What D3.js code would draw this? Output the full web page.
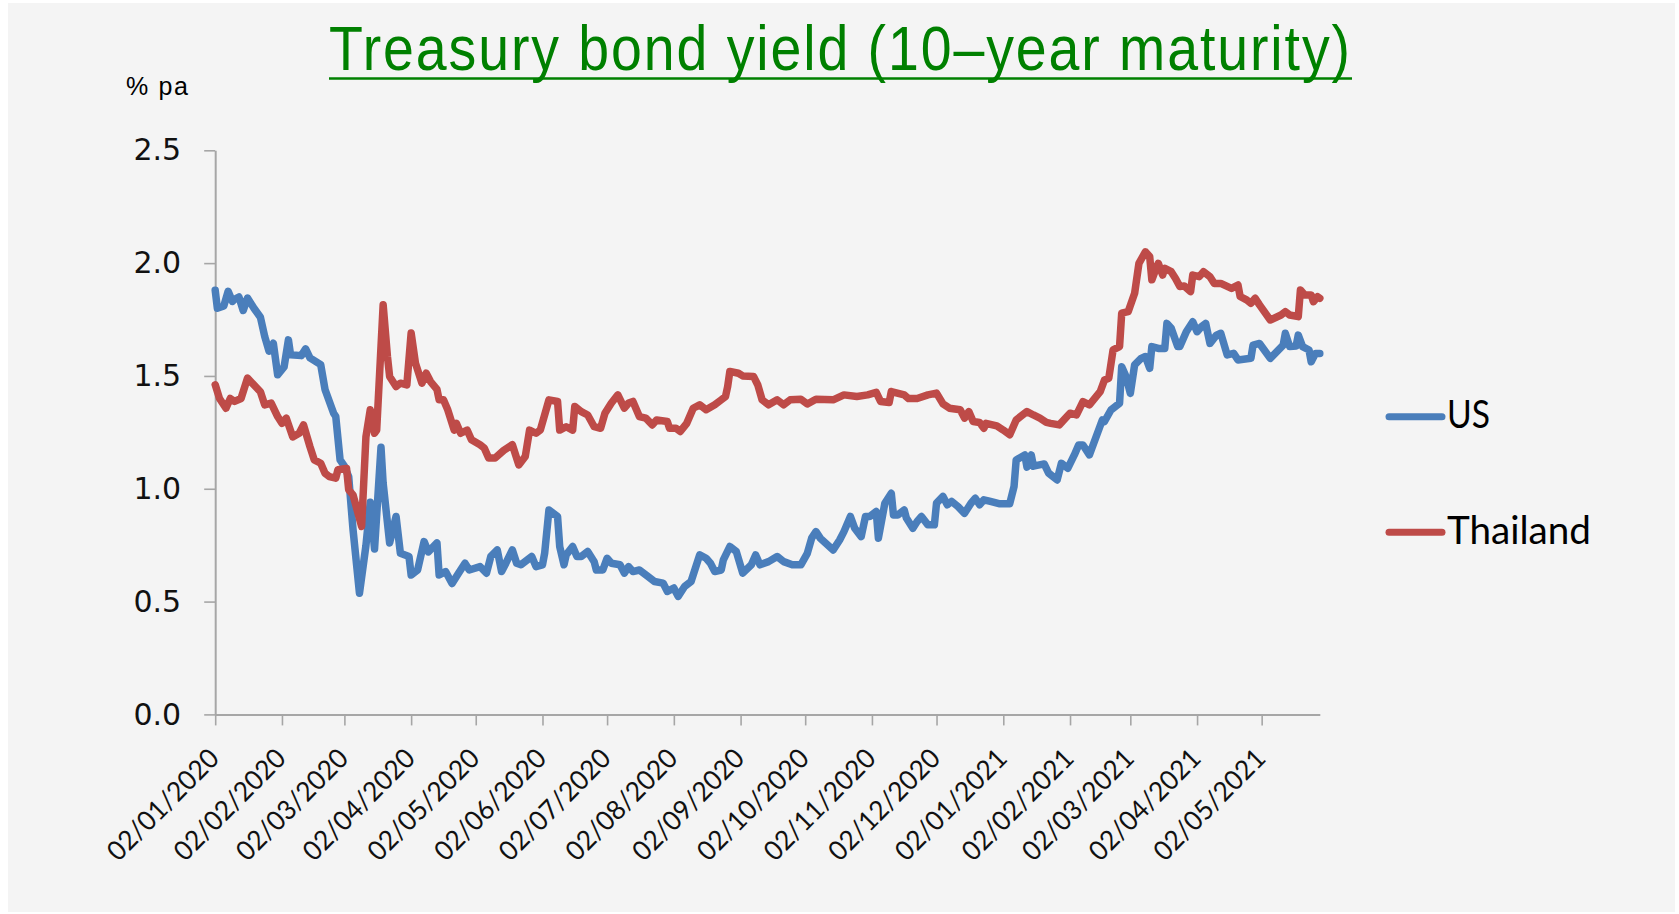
<!DOCTYPE html>
<html>
<head>
<meta charset="utf-8">
<title>Treasury bond yield (10–year maturity)</title>
<script src="https://cdn.jsdelivr.net/npm/d3@7"></script>
<style>
  html, body { margin: 0; padding: 0; background: #ffffff; }
  svg { display: block; }
</style>
</head>
<body>
<svg id="chart" width="1679" height="914"></svg>
<script>
// ---- Data: 10-year government bond yields, % per annum ----
const usDates = [
  "2020-01-02","2020-01-03","2020-01-06","2020-01-08","2020-01-10","2020-01-11","2020-01-13","2020-01-15","2020-01-17","2020-01-20",
  "2020-01-23","2020-01-25","2020-01-27","2020-01-29","2020-01-31","2020-02-03","2020-02-05","2020-02-06","2020-02-11","2020-02-13",
  "2020-02-15","2020-02-20","2020-02-22","2020-02-26","2020-02-27","2020-02-29","2020-03-02","2020-03-04","2020-03-06","2020-03-09",
  "2020-03-12","2020-03-14","2020-03-16","2020-03-19","2020-03-20","2020-03-23","2020-03-26","2020-03-28","2020-04-01","2020-04-02",
  "2020-04-05","2020-04-08","2020-04-10","2020-04-14","2020-04-15","2020-04-18","2020-04-21","2020-04-24","2020-04-27","2020-04-29",
  "2020-05-04","2020-05-07","2020-05-09","2020-05-12","2020-05-14","2020-05-16","2020-05-19","2020-05-21","2020-05-23","2020-05-28",
  "2020-05-30","2020-06-02","2020-06-03","2020-06-05","2020-06-09","2020-06-10","2020-06-12","2020-06-13","2020-06-16","2020-06-18",
  "2020-06-20","2020-06-23","2020-06-26","2020-06-27","2020-06-30","2020-07-02","2020-07-04","2020-07-08","2020-07-10","2020-07-12",
  "2020-07-14","2020-07-17","2020-07-21","2020-07-24","2020-07-28","2020-07-30","2020-08-02","2020-08-04","2020-08-07","2020-08-10",
  "2020-08-14","2020-08-17","2020-08-19","2020-08-21","2020-08-24","2020-08-25","2020-08-28","2020-08-31","2020-09-03","2020-09-07",
  "2020-09-09","2020-09-11","2020-09-15","2020-09-19","2020-09-22","2020-09-26","2020-09-30","2020-10-03","2020-10-05","2020-10-07",
  "2020-10-09","2020-10-15","2020-10-18","2020-10-20","2020-10-23","2020-10-25","2020-10-28","2020-10-30","2020-11-01","2020-11-04",
  "2020-11-05","2020-11-08","2020-11-11","2020-11-12","2020-11-14","2020-11-17","2020-11-18","2020-11-21","2020-11-23","2020-11-25",
  "2020-11-28","2020-12-01","2020-12-02","2020-12-05","2020-12-07","2020-12-09","2020-12-12","2020-12-15","2020-12-18","2020-12-20",
  "2020-12-22","2020-12-24","2020-12-27","2020-12-31","2021-01-05","2021-01-07","2021-01-08","2021-01-12","2021-01-13","2021-01-15",
  "2021-01-16","2021-01-21","2021-01-23","2021-01-27","2021-01-29","2021-02-01","2021-02-04","2021-02-06","2021-02-08","2021-02-11",
  "2021-02-13","2021-02-17","2021-02-18","2021-02-21","2021-02-25","2021-02-26","2021-02-28","2021-03-02","2021-03-04","2021-03-07",
  "2021-03-09","2021-03-11","2021-03-12","2021-03-15","2021-03-18","2021-03-19","2021-03-21","2021-03-24","2021-03-25","2021-03-28",
  "2021-03-31","2021-04-02","2021-04-04","2021-04-06","2021-04-08","2021-04-11","2021-04-13","2021-04-16","2021-04-19","2021-04-21",
  "2021-04-27","2021-04-28","2021-05-01","2021-05-06","2021-05-12","2021-05-13","2021-05-15","2021-05-18","2021-05-19","2021-05-21",
  "2021-05-24","2021-05-25","2021-05-27","2021-05-29"
];
const usYield = [
  1.88,1.80,1.81,1.875,1.83,1.84,1.85,1.79,1.845,1.80,
  1.76,1.675,1.61,1.645,1.505,1.54,1.66,1.594,1.59,1.62,
  1.58,1.55,1.44,1.335,1.32,1.128,1.10,1.054,0.82,0.537,
  0.748,0.94,0.733,1.184,1.025,0.76,0.877,0.714,0.70,0.618,
  0.64,0.766,0.72,0.76,0.618,0.633,0.58,0.626,0.67,0.64,
  0.655,0.626,0.70,0.729,0.633,0.67,0.729,0.67,0.663,0.70,
  0.655,0.663,0.714,0.906,0.877,0.744,0.663,0.707,0.744,0.70,
  0.70,0.722,0.677,0.64,0.64,0.692,0.67,0.663,0.626,0.655,
  0.633,0.64,0.611,0.589,0.582,0.545,0.56,0.523,0.567,0.589,
  0.707,0.692,0.67,0.633,0.64,0.685,0.744,0.722,0.626,0.663,
  0.707,0.663,0.677,0.70,0.677,0.663,0.663,0.714,0.781,0.81,
  0.781,0.729,0.773,0.81,0.877,0.825,0.788,0.877,0.877,0.899,
  0.781,0.936,0.98,0.884,0.884,0.906,0.87,0.825,0.855,0.877,
  0.84,0.84,0.936,0.966,0.929,0.944,0.921,0.891,0.936,0.958,
  0.929,0.951,0.944,0.934,0.934,1.01,1.128,1.15,1.096,1.15,
  1.10,1.11,1.07,1.039,1.113,1.091,1.15,1.194,1.194,1.15,
  1.202,1.305,1.298,1.349,1.379,1.541,1.497,1.423,1.549,1.578,
  1.586,1.534,1.63,1.622,1.622,1.733,1.711,1.63,1.63,1.696,
  1.74,1.696,1.718,1.733,1.644,1.681,1.689,1.593,1.60,1.571,
  1.578,1.637,1.644,1.578,1.637,1.689,1.63,1.633,1.681,1.63,
  1.615,1.563,1.60,1.60
];

const thDates = [
  "2020-01-02","2020-01-04","2020-01-07","2020-01-09","2020-01-11","2020-01-14","2020-01-17","2020-01-23","2020-01-25","2020-01-28",
  "2020-01-31","2020-02-02","2020-02-04","2020-02-07","2020-02-10","2020-02-12","2020-02-15","2020-02-17","2020-02-20","2020-02-22",
  "2020-02-24","2020-02-27","2020-02-28","2020-03-03","2020-03-04","2020-03-06","2020-03-10","2020-03-12","2020-03-14","2020-03-16",
  "2020-03-17","2020-03-20","2020-03-22","2020-03-23","2020-03-26","2020-03-28","2020-03-31","2020-04-02","2020-04-04","2020-04-07",
  "2020-04-09","2020-04-11","2020-04-14","2020-04-15","2020-04-17","2020-04-19","2020-04-22","2020-04-23","2020-04-25","2020-04-28",
  "2020-04-30","2020-05-04","2020-05-06","2020-05-08","2020-05-11","2020-05-15","2020-05-19","2020-05-22","2020-05-25","2020-05-27",
  "2020-05-30","2020-06-01","2020-06-05","2020-06-09","2020-06-10","2020-06-13","2020-06-16","2020-06-17","2020-06-20","2020-06-23",
  "2020-06-26","2020-06-29","2020-07-01","2020-07-04","2020-07-07","2020-07-10","2020-07-12","2020-07-14","2020-07-17","2020-07-20",
  "2020-07-23","2020-07-25","2020-07-30","2020-07-31","2020-08-03","2020-08-05","2020-08-08","2020-08-11","2020-08-14","2020-08-17",
  "2020-08-21","2020-08-24","2020-08-26","2020-08-27","2020-08-28","2020-09-01","2020-09-03","2020-09-08","2020-09-10","2020-09-12",
  "2020-09-15","2020-09-19","2020-09-22","2020-09-25","2020-09-30","2020-10-03","2020-10-07","2020-10-15","2020-10-20","2020-10-26",
  "2020-10-31","2020-11-04","2020-11-06","2020-11-10","2020-11-11","2020-11-17","2020-11-19","2020-11-23","2020-11-28","2020-12-02",
  "2020-12-05","2020-12-08","2020-12-13","2020-12-15","2020-12-17","2020-12-19","2020-12-22","2020-12-24","2020-12-25","2020-12-30",
  "2021-01-02","2021-01-05","2021-01-08","2021-01-10","2021-01-13","2021-01-16","2021-01-19","2021-01-22","2021-01-24","2021-01-28",
  "2021-02-02","2021-02-05","2021-02-08","2021-02-11","2021-02-16","2021-02-18","2021-02-20","2021-02-22","2021-02-25","2021-02-26",
  "2021-03-01","2021-03-04","2021-03-06","2021-03-09","2021-03-11","2021-03-12","2021-03-14","2021-03-15","2021-03-17","2021-03-18",
  "2021-03-21","2021-03-23","2021-03-25","2021-03-27","2021-03-30","2021-03-31","2021-04-03","2021-04-05","2021-04-08","2021-04-10",
  "2021-04-13","2021-04-18","2021-04-21","2021-04-22","2021-04-25","2021-04-27","2021-04-29","2021-05-01","2021-05-06","2021-05-11",
  "2021-05-13","2021-05-15","2021-05-19","2021-05-20","2021-05-22","2021-05-25","2021-05-26","2021-05-28","2021-05-29"
];
const thYield = [
  1.461,1.40,1.357,1.40,1.387,1.40,1.49,1.43,1.372,1.38,
  1.32,1.29,1.313,1.23,1.246,1.283,1.187,1.128,1.113,1.069,
  1.054,1.047,1.084,1.09,0.995,0.973,0.833,1.23,1.35,1.246,
  1.26,1.815,1.586,1.498,1.453,1.468,1.46,1.69,1.557,1.468,
  1.512,1.475,1.44,1.394,1.394,1.35,1.26,1.29,1.246,1.26,
  1.217,1.195,1.18,1.136,1.136,1.17,1.195,1.106,1.143,1.26,
  1.246,1.26,1.394,1.387,1.26,1.275,1.26,1.365,1.342,1.327,
  1.275,1.268,1.335,1.38,1.416,1.357,1.38,1.387,1.32,1.313,
  1.283,1.305,1.298,1.268,1.268,1.254,1.29,1.357,1.372,1.35,
  1.372,1.394,1.409,1.453,1.52,1.512,1.50,1.498,1.46,1.394,
  1.372,1.394,1.372,1.394,1.397,1.376,1.397,1.394,1.416,1.409,
  1.416,1.427,1.387,1.382,1.431,1.416,1.40,1.40,1.416,1.424,
  1.376,1.357,1.35,1.313,1.342,1.298,1.294,1.268,1.29,1.279,
  1.26,1.239,1.305,1.32,1.342,1.327,1.313,1.294,1.29,1.283,
  1.335,1.327,1.386,1.372,1.43,1.482,1.49,1.616,1.63,1.778,
  1.785,1.866,1.999,2.05,2.029,1.926,1.977,1.999,1.947,1.977,
  1.962,1.932,1.896,1.899,1.874,1.947,1.94,1.962,1.94,1.91,
  1.91,1.888,1.903,1.852,1.837,1.822,1.844,1.815,1.748,1.77,
  1.785,1.77,1.763,1.881,1.859,1.859,1.829,1.851,1.844
];

const seriesNames = ["US", "Thailand"];
const xTickDates = [
  "2020-01-02","2020-02-02","2020-03-02","2020-04-02","2020-05-02","2020-06-02","2020-07-02","2020-08-02","2020-09-02",
  "2020-10-02","2020-11-02","2020-12-02","2021-01-02","2021-02-02","2021-03-02","2021-04-02","2021-05-02"
];
const xDomain = ["2020-01-02", "2021-05-29"];
const yTicks = [0, 0.5, 1.0, 1.5, 2.0, 2.5];

const titleText = "Treasury bond yield (10–year maturity)";
const unitText = "% pa";

// ---- Layout ----
const W = 1679, H = 914;
const plot = { left: 215.2, right: 1319.8, top: 150.3, bottom: 714.4 };
const colors = { US: "#4a7ebb", Thailand: "#be4b48" };
const axisColor = "#a6a6a6";
const sansFont = "'Liberation Sans', Arial, sans-serif";

const parse = d3.utcParse("%Y-%m-%d");
const svg = d3.select("#chart");

// page background panel
svg.append("rect").attr("x", 0).attr("y", 0).attr("width", W).attr("height", H).attr("fill", "#ffffff");
svg.append("rect").attr("x", 8).attr("y", 3).attr("width", W - 12).attr("height", H - 5).attr("fill", "#f4f4f4");

const x = d3.scaleUtc().domain(xDomain.map(parse)).range([plot.left, plot.right]);
const y = d3.scaleLinear().domain([0, 2.5]).range([plot.bottom, plot.top]);

// condensed text: glyphs squeezed horizontally, letter spacing adjusted to fill the span
function condensedText(parent, str, x0, y0, size, span, squeeze, fill) {
  parent.append("g")
    .attr("transform", `translate(${x0},${y0}) scale(${squeeze},1)`)
    .append("text")
    .attr("x", 0).attr("y", 0)
    .attr("textLength", span / squeeze).attr("lengthAdjust", "spacing")
    .attr("font-family", sansFont)
    .attr("font-size", size)
    .attr("fill", fill)
    .text(str);
}

// ---- Title with underline ----
const titleX = 329, titleLen = 1021;
condensedText(svg, titleText, titleX, 70, 63, titleLen, 0.88, "#008000");
svg.append("line")
  .attr("x1", titleX).attr("x2", titleX + titleLen + 2)
  .attr("y1", 78.5).attr("y2", 78.5)
  .attr("stroke", "#008000").attr("stroke-width", 2.7);

// unit label
condensedText(svg, unitText, 126, 95, 25, 62, 1.0, "#000");

// ---- Axes ----
const yAxis = d3.axisLeft(y)
  .tickValues(yTicks)
  .tickFormat(d3.format(".1f"))
  .tickSize(11)
  .tickSizeOuter(0)
  .tickPadding(23);
const gy = svg.append("g").attr("transform", `translate(${plot.left},0)`).call(yAxis);
gy.select(".domain").attr("stroke", axisColor).attr("stroke-width", 2);
gy.selectAll(".tick line").attr("stroke", axisColor).attr("stroke-width", 1.6);
gy.selectAll(".tick text")
  .attr("font-family", "'DejaVu Sans', Verdana, sans-serif")
  .attr("font-size", 30)
  .attr("fill", "#111");

const xAxis = d3.axisBottom(x)
  .tickValues(xTickDates.map(parse))
  .tickFormat(d3.utcFormat("%d/%m/%Y"))
  .tickSize(11)
  .tickSizeOuter(0);
const gx = svg.append("g").attr("transform", `translate(0,${plot.bottom})`).call(xAxis);
gx.select(".domain").attr("stroke", axisColor).attr("stroke-width", 2);
gx.selectAll(".tick line").attr("stroke", axisColor).attr("stroke-width", 1.6);
gx.selectAll(".tick text")
  .attr("x", 0).attr("y", 0).attr("dy", 0)
  .attr("text-anchor", "end")
  .attr("transform", "translate(5,45.6) rotate(-45)")
  .attr("textLength", 145).attr("lengthAdjust", "spacingAndGlyphs")
  .attr("font-family", "Lato, 'Open Sans', sans-serif")
  .attr("font-size", 27)
  .attr("fill", "#111");

// ---- Lines ----
const series = [
  { name: "US", points: usDates.map((d, i) => ({ date: parse(d), value: usYield[i] })) },
  { name: "Thailand", points: thDates.map((d, i) => ({ date: parse(d), value: thYield[i] })) }
];
const line = d3.line().x(d => x(d.date)).y(d => y(d.value));
svg.append("g").selectAll("path")
  .data(series)
  .join("path")
  .attr("d", s => line(s.points))
  .attr("fill", "none")
  .attr("stroke", s => colors[s.name])
  .attr("stroke-width", 7.5)
  .attr("stroke-linejoin", "round")
  .attr("stroke-linecap", "round");

// ---- Legend ----
const legendRows = [
  { name: "US", y: 416.7, baseline: 428.3, len: 43 },
  { name: "Thailand", y: 532.3, baseline: 543.6, len: 144 }
];
const lg = svg.append("g");
legendRows.forEach(r => {
  lg.append("line")
    .attr("x1", 1389).attr("x2", 1442)
    .attr("y1", r.y).attr("y2", r.y)
    .attr("stroke", colors[r.name]).attr("stroke-width", 7)
    .attr("stroke-linecap", "round");
  lg.append("text")
    .attr("x", 1447).attr("y", r.baseline)
    .attr("textLength", r.len).attr("lengthAdjust", "spacingAndGlyphs")
    .attr("font-family", "Lato, 'Open Sans', sans-serif")
    .attr("font-size", 38)
    .attr("fill", "#000")
    .text(r.name);
});
</script>
</body>
</html>
